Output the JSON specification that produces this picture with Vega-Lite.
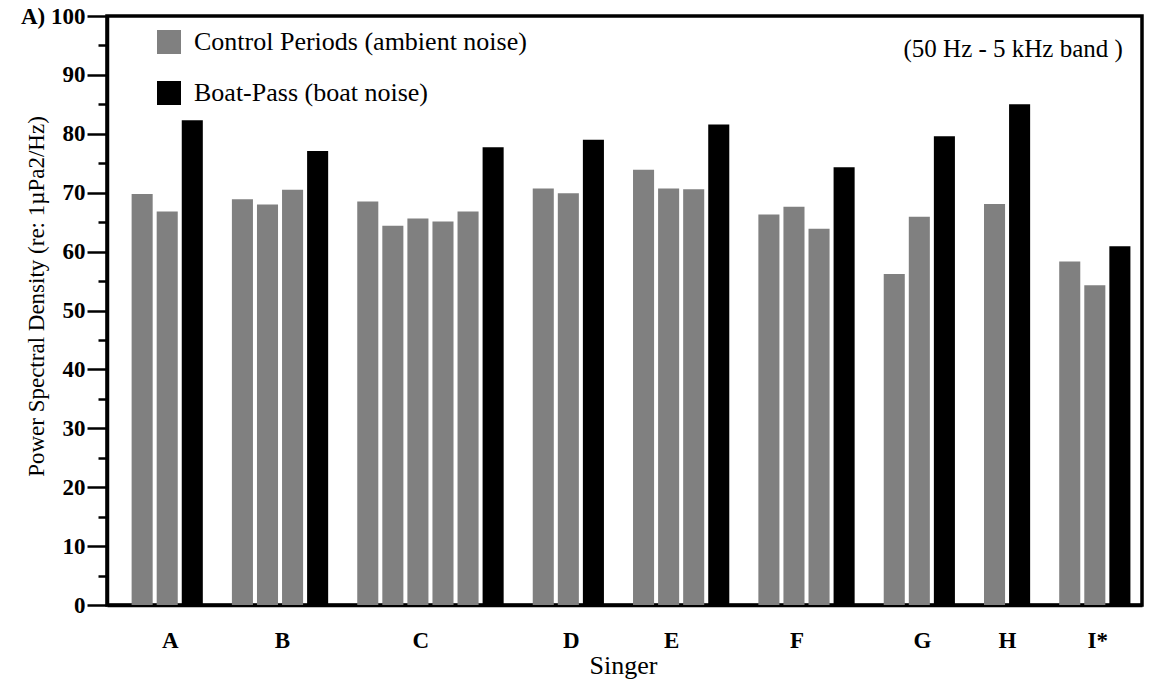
{
  "$schema": "https://vega.github.io/schema/vega-lite/v6.json",
  "width": 1035,
  "height": 589,
  "autosize": {"type": "none"},
  "padding": {"left": 107, "top": 16, "right": 11, "bottom": 84},
  "background": "white",
  "config": {
    "font": "Liberation Serif",
    "view": {"stroke": "black", "strokeWidth": 3.5},
    "axis": {"labelColor": "black", "titleColor": "black", "domainColor": "black", "tickColor": "black", "grid": false}
  },
  "data": {
    "values": [
      {"bar": "A-c1", "singer": "A", "period": "Control Periods (ambient noise)", "psd": 69.8},
      {"bar": "A-c2", "singer": "A", "period": "Control Periods (ambient noise)", "psd": 66.8},
      {"bar": "A-b", "singer": "A", "period": "Boat-Pass (boat noise)", "psd": 82.3},
      {"bar": "B-c1", "singer": "B", "period": "Control Periods (ambient noise)", "psd": 68.9},
      {"bar": "B-c2", "singer": "B", "period": "Control Periods (ambient noise)", "psd": 68.0},
      {"bar": "B-c3", "singer": "B", "period": "Control Periods (ambient noise)", "psd": 70.5},
      {"bar": "B-b", "singer": "B", "period": "Boat-Pass (boat noise)", "psd": 77.1},
      {"bar": "C-c1", "singer": "C", "period": "Control Periods (ambient noise)", "psd": 68.5},
      {"bar": "C-c2", "singer": "C", "period": "Control Periods (ambient noise)", "psd": 64.4},
      {"bar": "C-c3", "singer": "C", "period": "Control Periods (ambient noise)", "psd": 65.6},
      {"bar": "C-c4", "singer": "C", "period": "Control Periods (ambient noise)", "psd": 65.1},
      {"bar": "C-c5", "singer": "C", "period": "Control Periods (ambient noise)", "psd": 66.8},
      {"bar": "C-b", "singer": "C", "period": "Boat-Pass (boat noise)", "psd": 77.7},
      {"bar": "D-c1", "singer": "D", "period": "Control Periods (ambient noise)", "psd": 70.7},
      {"bar": "D-c2", "singer": "D", "period": "Control Periods (ambient noise)", "psd": 69.9},
      {"bar": "D-b", "singer": "D", "period": "Boat-Pass (boat noise)", "psd": 79.0},
      {"bar": "E-c1", "singer": "E", "period": "Control Periods (ambient noise)", "psd": 73.9},
      {"bar": "E-c2", "singer": "E", "period": "Control Periods (ambient noise)", "psd": 70.7},
      {"bar": "E-c3", "singer": "E", "period": "Control Periods (ambient noise)", "psd": 70.6},
      {"bar": "E-b", "singer": "E", "period": "Boat-Pass (boat noise)", "psd": 81.6},
      {"bar": "F-c1", "singer": "F", "period": "Control Periods (ambient noise)", "psd": 66.3},
      {"bar": "F-c2", "singer": "F", "period": "Control Periods (ambient noise)", "psd": 67.6},
      {"bar": "F-c3", "singer": "F", "period": "Control Periods (ambient noise)", "psd": 63.9},
      {"bar": "F-b", "singer": "F", "period": "Boat-Pass (boat noise)", "psd": 74.3},
      {"bar": "G-c1", "singer": "G", "period": "Control Periods (ambient noise)", "psd": 56.2},
      {"bar": "G-c2", "singer": "G", "period": "Control Periods (ambient noise)", "psd": 65.9},
      {"bar": "G-b", "singer": "G", "period": "Boat-Pass (boat noise)", "psd": 79.6},
      {"bar": "H-c1", "singer": "H", "period": "Control Periods (ambient noise)", "psd": 68.1},
      {"bar": "H-b", "singer": "H", "period": "Boat-Pass (boat noise)", "psd": 85.0},
      {"bar": "I-c1", "singer": "I*", "period": "Control Periods (ambient noise)", "psd": 58.3},
      {"bar": "I-c2", "singer": "I*", "period": "Control Periods (ambient noise)", "psd": 54.3},
      {"bar": "I-b", "singer": "I*", "period": "Boat-Pass (boat noise)", "psd": 60.9}
    ]
  },
  "layer": [
    {
      "mark": {"type": "bar"},
      "encoding": {
        "x": {
          "field": "bar",
          "type": "nominal",
          "scale": {
            "domain": ["A-c1", "A-c2", "A-b", "g1", "B-c1", "B-c2", "B-c3", "B-b", "g2", "C-c1", "C-c2", "C-c3", "C-c4", "C-c5", "C-b", "g3", "D-c1", "D-c2", "D-b", "g4", "E-c1", "E-c2", "E-c3", "E-b", "g5", "F-c1", "F-c2", "F-c3", "F-b", "g6", "G-c1", "G-c2", "G-b", "g7", "H-c1", "H-b", "g8", "I-c1", "I-c2", "I-b"],
            "paddingInner": 0.16,
            "paddingOuter": 0.722,
            "align": 0.68
          },
          "axis": {
            "title": "Singer",
            "titleFontSize": 26,
            "titleFontWeight": "normal",
            "titleX": 516,
            "titleY": 68,
            "titleBaseline": "alphabetic",
            "titleAlign": "center",
            "ticks": false,
            "domainWidth": 3.5,
            "labelAngle": 0,
            "labelFontSize": 23,
            "labelFontWeight": "bold",
            "labelBaseline": "top",
            "labelPadding": 24,
            "labelOverlap": false,
            "labelOffset": {"condition": [{"test": "datum.value === 'B-c2'", "value": 15}, {"test": "datum.value === 'H-c1'", "value": 13}], "value": 3},
            "labelExpr": "datum.value==='A-c2'?'A':datum.value==='B-c2'?'B':datum.value==='C-c3'?'C':datum.value==='D-c2'?'D':datum.value==='E-c2'?'E':datum.value==='F-c2'?'F':datum.value==='G-c2'?'G':datum.value==='H-c1'?'H':datum.value==='I-c2'?'I*':''"
          }
        },
        "y": {
          "field": "psd",
          "type": "quantitative",
          "scale": {"domain": [0, 100], "nice": false},
          "axis": {
            "values": [0, 10, 20, 30, 40, 50, 60, 70, 80, 90, 100],
            "tickSize": 20,
            "tickWidth": 2.5,
            "domainWidth": 3.5,
            "labelFontSize": 23,
            "labelFontWeight": "bold",
            "labelPadding": 2,
            "labelExpr": "datum.value == 100 ? 'A) 100' : datum.label",
            "title": "Power Spectral Density (re: 1µPa2/Hz)",
            "titleFontSize": 23,
            "titleFontWeight": "normal",
            "titleX": -71,
            "titleY": 280,
            "titleAngle": -90,
            "titleAlign": "center",
            "titleBaseline": "middle"
          }
        },
        "color": {
          "field": "period",
          "type": "nominal",
          "scale": {"domain": ["Control Periods (ambient noise)", "Boat-Pass (boat noise)"], "range": ["#808080", "#000000"]},
          "legend": {
            "orient": "none",
            "legendX": 49,
            "legendY": 13,
            "title": null,
            "symbolType": "square",
            "symbolSize": 576,
            "symbolStrokeWidth": 0,
            "labelFontSize": 26,
            "labelFont": "Liberation Serif",
            "labelColor": "black",
            "labelLimit": 0,
            "rowPadding": 25,
            "labelOffset": 12,
            "padding": 0,
            "direction": "vertical"
          }
        }
      }
    },
    {
      "mark": {"type": "bar", "opacity": 0},
      "encoding": {
        "x": {"field": "bar", "type": "nominal", "axis": null},
        "y": {
          "field": "psd",
          "type": "quantitative",
          "axis": {
            "orient": "left",
            "values": [5, 15, 25, 35, 45, 55, 65, 75, 85, 95],
            "labels": false,
            "domain": false,
            "tickSize": 9,
            "tickWidth": 2.5,
            "title": null
          }
        }
      }
    },
    {
      "data": {"values": [{"bar": "I-b", "psd": 94.4, "note": "(50 Hz - 5 kHz band )"}]},
      "mark": {"type": "text", "align": "right", "baseline": "middle", "fontSize": 25, "font": "Liberation Serif", "color": "black", "dx": 3},
      "encoding": {
        "x": {"field": "bar", "type": "nominal", "axis": null},
        "y": {"field": "psd", "type": "quantitative", "axis": null},
        "text": {"field": "note"}
      }
    }
  ],
  "resolve": {"axis": {"x": "independent", "y": "independent"}}
}
